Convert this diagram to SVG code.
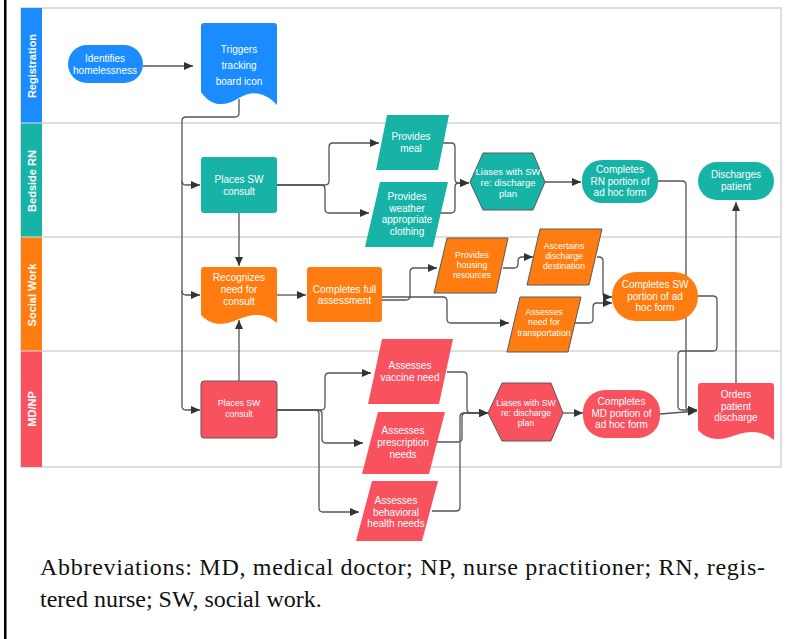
<svg xmlns="http://www.w3.org/2000/svg" width="793" height="639" viewBox="0 0 793 639">
<style>
.frame{fill:none;stroke:#d4d4d4;stroke-width:1.5}
.sep{stroke:#d4d4d4;stroke-width:1.5}
.lbl{font-family:"Liberation Sans",Arial,sans-serif;font-weight:bold;font-size:11px;fill:#fff;text-anchor:middle}
.t{font-family:"Liberation Sans",Arial,sans-serif;font-size:10px;fill:#fff;text-anchor:middle}
.ts{font-size:8.7px}
.blue{fill:#1a8cff}
.teal{fill:#17b3a6}
.orange{fill:#fe7c10}
.red{fill:#f8525f}
.ol{stroke:#5a5a5a;stroke-width:1}
.c{fill:none;stroke:#555;stroke-width:1.3;marker-end:url(#ah)}
.cap{font-family:"Liberation Serif","Times New Roman",serif;font-size:24px;fill:#111}
</style>
<defs>
<marker id="ah" markerUnits="userSpaceOnUse" markerWidth="9" markerHeight="8" refX="9" refY="4" orient="auto">
<path d="M0,0 L9,4 L0,8 Z" fill="#333"/>
</marker>
</defs>
<rect x="0" y="0" width="793" height="639" fill="#fff"/>
<rect x="4" y="0" width="2.5" height="639" fill="#000"/>

<g id="lanes">
<rect class="frame" x="21" y="8" width="760" height="459"/>
<line class="sep" x1="21" y1="123" x2="781" y2="123"/>
<line class="sep" x1="21" y1="237" x2="781" y2="237"/>
<line class="sep" x1="21" y1="351" x2="781" y2="351"/>
<rect class="blue" x="21" y="8" width="21" height="114.5"/>
<rect class="teal" x="21" y="123.5" width="21" height="113"/>
<rect class="orange" x="21" y="237.5" width="21" height="113"/>
<rect class="red" x="21" y="351.5" width="21" height="115.5"/>
<text class="lbl" transform="translate(35.5,66) rotate(-90)">Registration</text>
<text class="lbl" transform="translate(35.5,181) rotate(-90)">Bedside RN</text>
<text class="lbl" transform="translate(35.5,295) rotate(-90)">Social Work</text>
<text class="lbl" transform="translate(35.5,409) rotate(-90)">MD/NP</text>
</g>

<g id="connectors">
<path class="c" d="M143,66 H193"/>
<path class="c" d="M239,99 V113 Q239,117 235,117 H186 Q182,117 182,121 V181 Q182,185 186,185 H200"/>
<path class="c" d="M182,181 V291 Q182,295 186,295 H200"/>
<path class="c" d="M182,291 V406 Q182,410 186,410 H200"/>
<path class="c" d="M239,213 V266"/>
<path class="c" d="M239,381 V320"/>
<path class="c" d="M277,185 H325 Q329,185 329,181 V147 Q329,143 333,143 H379"/>
<path class="c" d="M277,185 H321 Q325,185 325,189 V209 Q325,213 329,213 H369"/>
<path class="c" d="M443,143 H451 Q455,143 455,147 V179 Q455,183 459,183 H469"/>
<path class="c" d="M440,213 H451 Q455,213 455,209 V187 Q455,183 459,183 H469"/>
<path class="c" d="M545,182 H581"/>
<path class="c" d="M658,181 H682 Q686,181 686,185 V406 Q686,410 690,410 H697"/>
<path class="c" d="M698,296 H713 Q717,296 717,300 V347 Q717,351 713,351 H682 Q678,351 678,355 V406 Q678,410 682,410 H697"/>
<path class="c" d="M736,384 V202"/>
<path class="c" d="M277,295 H306"/>
<path class="c" d="M382,300 H406 Q410,300 410,296 V272 Q410,268 414,268 H437"/>
<path class="c" d="M382,297 H443 Q447,297 447,301 V319 Q447,323 451,323 H509"/>
<path class="c" d="M503,268 H514 Q518,268 518,264 V261 Q518,257 522,257 H533"/>
<path class="c" d="M597,257 H599 Q603,257 603,261 V293 Q603,297 607,297 H612"/>
<path class="c" d="M575,323 H589 Q593,323 593,319 V307 Q593,303 597,303 H612"/>
<path class="c" d="M277,410 H321 Q325,410 325,406 V377 Q325,373 329,373 H371"/>
<path class="c" d="M277,410 H318 Q322,410 322,414 V439 Q322,443 326,443 H363"/>
<path class="c" d="M277,410 H315 Q319,410 319,414 V508 Q319,512 323,512 H359"/>
<path class="c" d="M447,372 H463 Q467,372 467,376 V409 Q467,413 471,413 H488"/>
<path class="c" d="M437,442 H458 Q462,442 462,438 V417 Q462,413 466,413 H488"/>
<path class="c" d="M432,511 H456 Q460,511 460,507 V417 Q460,413 464,413 H488"/>
<path class="c" d="M563,413 H583"/>
<path class="c" d="M660,414 L697,411"/>
</g>

<g id="n-identifies">
<rect class="blue" x="68" y="45" width="75" height="38" rx="19"/>
<text class="t" x="105" y="61.5">Identifies</text>
<text class="t" x="105" y="73.5">homelessness</text>
</g>
<g id="n-triggers">
<path class="blue" d="M201,26 Q201,23 204,23 H274 Q277,23 277,26 V105 C265,92 252,90 239,98 C226,106 212,108 201,92 Z"/>
<text class="t" x="239" y="52.5">Triggers</text>
<text class="t" x="239" y="69">tracking</text>
<text class="t" x="239" y="85">board icon</text>
</g>
<g id="n-rn-places">
<rect class="teal" x="201" y="157" width="76" height="56" rx="3"/>
<text class="t" x="239" y="182.5">Places SW</text>
<text class="t" x="239" y="194.5">consult</text>
</g>
<g id="n-meal">
<path class="teal" d="M387,115 H449 L438,170 H376 Z"/>
<text class="t" x="411" y="139.5">Provides</text>
<text class="t" x="411" y="151.5">meal</text>
</g>
<g id="n-clothing">
<path class="teal" d="M380,182 H448 L433,247 H365 Z"/>
<text class="t" x="407" y="199.5">Provides</text>
<text class="t" x="407" y="211.5">weather</text>
<text class="t" x="407" y="222.5">appropriate</text>
<text class="t" x="407" y="234.5">clothing</text>
</g>
<g id="n-rn-liases">
<path class="teal ol" d="M470,182 L483,153 H533 L545,182 L533,210 H483 Z"/>
<text class="t" x="508" y="175" style="font-size:9.5px">Liases with SW</text>
<text class="t" x="508" y="186" style="font-size:9.5px">re: discharge</text>
<text class="t" x="508" y="196.5" style="font-size:9.5px">plan</text>
</g>
<g id="n-rn-portion">
<rect class="teal" x="582" y="160" width="76" height="43" rx="20"/>
<text class="t" x="620" y="172.5">Completes</text>
<text class="t" x="620" y="184.5">RN portion of</text>
<text class="t" x="620" y="195.5">ad hoc form</text>
</g>
<g id="n-discharges">
<rect class="teal" x="698" y="162" width="76" height="38" rx="19"/>
<text class="t" x="736" y="177.5">Discharges</text>
<text class="t" x="736" y="189.5">patient</text>
</g>
<g id="n-recognizes">
<path class="orange" d="M201,270 Q201,267 204,267 H274 Q277,267 277,270 V323 C266,313 253,313 239,319 C226,325 212,327 201,315 Z"/>
<text class="t" x="239" y="280.5">Recognizes</text>
<text class="t" x="239" y="292.5">need for</text>
<text class="t" x="239" y="304.5">consult</text>
</g>
<g id="n-full">
<rect class="orange" x="307" y="267" width="75" height="55" rx="3"/>
<text class="t" x="344.5" y="292.5">Completes full</text>
<text class="t" x="344.5" y="303.5">assessment</text>
</g>
<g id="n-housing">
<path class="orange ol" d="M447,238 H508 L496,293 H434 Z"/>
<text class="t ts" x="472" y="258">Provides</text>
<text class="t ts" x="472" y="268">housing</text>
<text class="t ts" x="472" y="278">resources</text>
</g>
<g id="n-ascertains">
<path class="orange ol" d="M540,229 H602 L589,285 H527 Z"/>
<text class="t ts" x="564" y="249">Ascertains</text>
<text class="t ts" x="564" y="259">discharge</text>
<text class="t ts" x="564" y="269">destination</text>
</g>
<g id="n-transport">
<path class="orange ol" d="M520,297 H581 L568,352 H507 Z"/>
<text class="t ts" x="544" y="315">Assesses</text>
<text class="t ts" x="544" y="325">need for</text>
<text class="t ts" x="544" y="336">transportation</text>
</g>
<g id="n-sw-portion">
<rect class="orange" x="612" y="272" width="86" height="49" rx="24"/>
<text class="t" x="655" y="287.5">Completes SW</text>
<text class="t" x="655" y="299.5">portion of ad</text>
<text class="t" x="655" y="310.5">hoc form</text>
</g>
<g id="n-md-places">
<rect class="red ol" x="201" y="381" width="76" height="57" rx="3"/>
<text class="t ts" x="239" y="406">Places SW</text>
<text class="t ts" x="239" y="417">consult</text>
</g>
<g id="n-vaccine">
<path class="red" d="M382,339 H453 L439,404 H368 Z"/>
<text class="t" x="410" y="368.5">Assesses</text>
<text class="t" x="410" y="380.5">vaccine need</text>
</g>
<g id="n-prescription">
<path class="red" d="M378,412 H445 L429,474 H362 Z"/>
<text class="t" x="403" y="433.5">Assesses</text>
<text class="t" x="403" y="445.5">prescription</text>
<text class="t" x="403" y="457.5">needs</text>
</g>
<g id="n-behavioral">
<path class="red" d="M372,481 H438 L422,541 H356 Z"/>
<text class="t" x="396" y="503.5">Assesses</text>
<text class="t" x="396" y="515.5">behavioral</text>
<text class="t" x="396" y="526.5">health needs</text>
</g>
<g id="n-md-liases">
<path class="red ol" d="M488,413 L502,383 H551 L563,413 L551,441 H502 Z"/>
<text class="t ts" x="526" y="406">Liases with SW</text>
<text class="t ts" x="526" y="416">re: discharge</text>
<text class="t ts" x="526" y="426">plan</text>
</g>
<g id="n-md-portion">
<rect class="red" x="583" y="390" width="77" height="48" rx="22"/>
<text class="t" x="621.5" y="404.5">Completes</text>
<text class="t" x="621.5" y="416.5">MD portion of</text>
<text class="t" x="621.5" y="427.5">ad hoc form</text>
</g>
<g id="n-orders">
<path class="red" d="M698,386 Q698,383 701,383 H771 Q774,383 774,386 V440 C763,431 750,430 736,435 C723,440 709,442 698,430 Z"/>
<text class="t" x="736" y="397.5">Orders</text>
<text class="t" x="736" y="409.5">patient</text>
<text class="t" x="736" y="420.5">discharge</text>
</g>

<g id="caption">
<text class="cap" x="40" y="575" textLength="725" lengthAdjust="spacing">Abbreviations: MD, medical doctor; NP, nurse practitioner; RN, regis-</text>
<text class="cap" x="40" y="607">tered nurse; SW, social work.</text>
</g>
</svg>
